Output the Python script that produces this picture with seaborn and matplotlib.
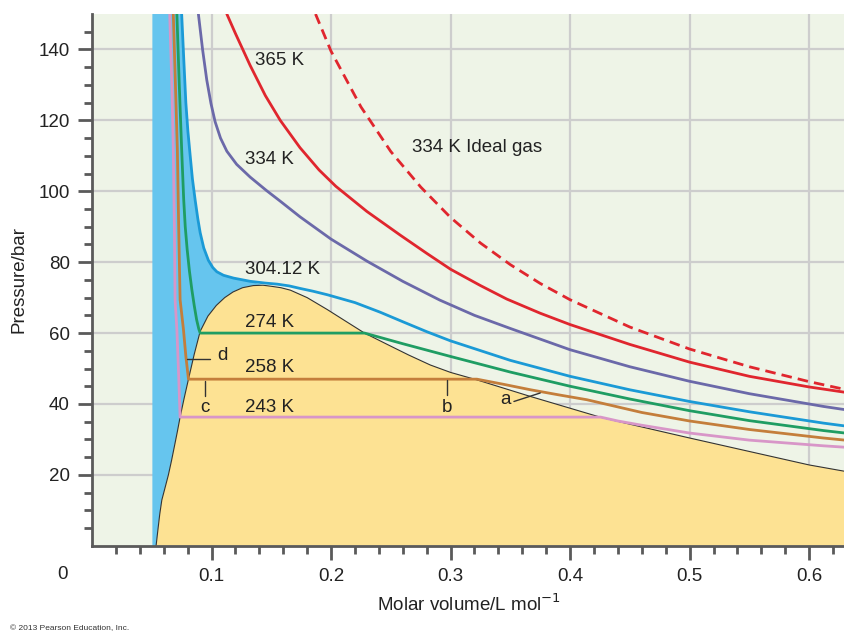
import numpy as np
import pandas as pd
import matplotlib
matplotlib.use("Agg")
from matplotlib import pyplot as plt
import seaborn as sns

# isotherms: molar volume (L/mol) / pressure (bar)
v_365 = [0.1128, 0.12, 0.1323, 0.145, 0.1575, 0.174, 0.19, 0.204, 0.23, 0.258, 0.28, 0.3, 0.325, 0.347, 0.375,
         0.4, 0.45, 0.5, 0.55, 0.6, 0.63]
p_365 = [150, 144.5, 135.5, 127, 120, 112.3, 106, 101.4, 94.3, 87.6, 82.5, 78, 73.4, 69.6, 65.6,
         62.4, 56.8, 51.8, 47.8, 44.8, 43.3]

v_ideal = [0.187, 0.2, 0.225, 0.25, 0.275, 0.3, 0.325, 0.35, 0.375, 0.4, 0.45, 0.5, 0.55, 0.6, 0.63]
p_ideal = [150, 139.5, 123.8, 111.2, 101.2, 92.6, 85.4, 79.3, 74.0, 69.4, 61.7, 55.5, 50.5, 46.3, 44.1]

v_334 = [0.089, 0.0925, 0.096, 0.0995, 0.103, 0.1075, 0.1128, 0.121, 0.1323, 0.146, 0.1575, 0.174, 0.2, 0.23,
         0.26, 0.291, 0.32, 0.35, 0.4, 0.45, 0.5, 0.55, 0.612, 0.63]
p_334 = [150, 140, 131.4, 124.8, 119.6, 115, 111.3, 107.6, 104, 100.2, 97.2, 92.8, 86.5, 80.3,
         74.6, 69.3, 65, 61.3, 55.3, 50.5, 46.4, 42.9, 39.3, 38.4]

v_304 = [0.075, 0.0768, 0.0785, 0.0802, 0.082, 0.084, 0.0863, 0.0885, 0.0905, 0.0935, 0.0974, 0.101, 0.1044,
         0.11, 0.1185, 0.1323, 0.145, 0.155, 0.165, 0.174, 0.185, 0.197, 0.22, 0.241, 0.26, 0.28, 0.3, 0.35,
         0.4, 0.45, 0.5, 0.55, 0.612, 0.63]
p_304 = [150, 137, 125, 117, 110.5, 103.5, 97.5, 92.3, 88.3, 84, 80.5, 78.5, 77.3,
         76.3, 75.5, 74.6, 74.1, 73.8, 73.3, 72.6, 71.8, 70.8, 68.6, 65.9, 63.2, 60.4, 57.8, 52.3,
         47.8, 44, 40.7, 37.8, 34.6, 33.8]

v_274 = [0.071, 0.073, 0.075, 0.0767, 0.078, 0.0796, 0.0815, 0.0835, 0.0855, 0.0875, 0.0893, 0.0905,
         0.228, 0.26, 0.3, 0.35, 0.4, 0.45, 0.5, 0.55, 0.612, 0.63]
p_274 = [150, 130, 111.8, 97.7, 90, 83.6, 77.5, 72.3, 67.8, 63.8, 61.2, 60,
         60, 57, 53.4, 49, 45, 41.4, 38.1, 35.3, 32.5, 31.8]

v_258 = [0.068, 0.0698, 0.0714, 0.0725, 0.0737, 0.0765, 0.0785, 0.0807, 0.322, 0.345, 0.367, 0.39, 0.414,
         0.46, 0.5, 0.55, 0.612, 0.63]
p_258 = [150, 130, 111.8, 90, 69.4, 61, 53.5, 47, 47, 45.5, 44.0, 42.6, 41.2,
         37.6, 35.2, 32.8, 30.4, 29.8]

v_243 = [0.065, 0.0668, 0.068, 0.0689, 0.0695, 0.071, 0.0725, 0.0737, 0.4255, 0.44, 0.46, 0.5, 0.55, 0.612, 0.63]
p_243 = [150, 130, 111.8, 90, 69.4, 61, 48, 36.3, 36.3, 35.2, 34.0, 31.8, 29.8, 28.2, 27.8]

# coexistence dome
v_dome = [0.0536, 0.0553, 0.0567, 0.0584, 0.0612, 0.0639, 0.0665, 0.0689, 0.0714, 0.0737, 0.077, 0.0807,
          0.0855, 0.0905, 0.097, 0.104, 0.111, 0.118, 0.126, 0.135, 0.143, 0.15, 0.158, 0.166, 0.18, 0.197,
          0.212, 0.228, 0.25, 0.265, 0.283, 0.3, 0.322, 0.345, 0.367, 0.39, 0.425, 0.45, 0.5, 0.55, 0.6, 0.63]
p_dome = [0, 5, 9, 12.9, 16.5, 20, 24, 28, 32.2, 36.3, 41.5, 47,
          54, 60.5, 64.8, 67.8, 70, 71.6, 72.8, 73.4, 73.5, 73.2, 72.8, 72.1, 70, 66.6,
          63.4, 60, 56.3, 53.8, 51, 48.9, 46.8, 44.4, 42.1, 39.8, 36.3, 34.3, 30.4, 26.6, 22.8, 21.0]

# liquid region left edge
v_liq = 0.0505

iso_labels = ["365 K", "334 K", "334 K Ideal gas", "304.12 K", "274 K", "258 K", "243 K"]
label_v = [0.1365, 0.128, 0.268, 0.128, 0.128, 0.128, 0.128]
label_p = [136.8, 109, 112.4, 77.9, 62.9, 50.2, 38.9]

c_red = "#e0262e"
c_purple = "#6b69a9"
c_cyan = "#1b9ad6"
c_green = "#1f9d63"
c_brown = "#c47e3b"
c_pink = "#d896c8"

sns.set_style("ticks")
plt.rcParams['font.family'] = ['Liberation Sans', 'DejaVu Sans']

fig = plt.figure(figsize=(8.45, 6.37), dpi=100)
ax = fig.add_axes([0.1089, 0.1432, 0.8911, 0.8348])
ax.set_facecolor("#eef4e7")

# blue liquid region, then yellow dome over it
n_top = sum(1 for v in v_304 if v <= 0.14)
peak = int(np.argmax(p_dome))
liq_v = [v_liq, v_liq] + v_304[:n_top] + v_dome[:peak + 1][::-1]
liq_p = [0, 150] + p_304[:n_top] + p_dome[:peak + 1][::-1]
ax.fill(liq_v, liq_p, color="#66c5ee", lw=0, zorder=1)
ax.fill(v_dome + [v_dome[-1]], p_dome + [0], color="#fde293", lw=0, zorder=1.2)
sns.lineplot(x=v_dome, y=p_dome, sort=False, estimator=None, color="#333333", lw=0.8, ax=ax, zorder=1.5)

curves = [(v_243, p_243, c_pink), (v_258, p_258, c_brown), (v_274, p_274, c_green),
          (v_304, p_304, c_cyan), (v_334, p_334, c_purple), (v_365, p_365, c_red)]
for vv, pp, cc in curves:
    sns.lineplot(x=vv, y=pp, sort=False, estimator=None, color=cc, lw=2, ax=ax, zorder=3)
ideal = pd.DataFrame({"V": v_ideal, "P": p_ideal})
sns.lineplot(data=ideal, x="V", y="P", sort=False, estimator=None, color=c_red, lw=2,
             ax=ax, zorder=3, dashes=False, linestyle=(0, (3.8, 2.2)))

for t, v, p in zip(iso_labels, label_v, label_p):
    ax.text(v, p, t, fontsize=13.5, color="#222222", ha="left", va="center", zorder=4)

# point markers a-d
ax.plot([0.0793, 0.0988], [52.7, 52.7], color="#333333", lw=1, zorder=4)
ax.text(0.109, 53.6, "d", fontsize=13.5, color="#222222", ha="center", va="center", zorder=4)
ax.plot([0.0946, 0.0946], [46.6, 42.3], color="#333333", lw=1, zorder=4)
ax.text(0.0946, 38.9, "c", fontsize=13.5, color="#222222", ha="center", va="center", zorder=4)
ax.plot([0.297, 0.297], [46.8, 42.6], color="#333333", lw=1, zorder=4)
ax.text(0.297, 38.9, "b", fontsize=13.5, color="#222222", ha="center", va="center", zorder=4)
ax.plot([0.353, 0.375], [40.7, 43.1], color="#333333", lw=1, zorder=4)
ax.text(0.346, 41.2, "a", fontsize=13.5, color="#222222", ha="center", va="center", zorder=4)

ax.set_xlim(0, 0.63)
ax.set_ylim(0, 150)
ax.set_xticks([0.1, 0.2, 0.3, 0.4, 0.5, 0.6])
ax.set_xticklabels(["0.1", "0.2", "0.3", "0.4", "0.5", "0.6"])
ax.set_xticks(np.arange(0.02, 0.63, 0.02), minor=True)
ax.set_yticks([20, 40, 60, 80, 100, 120, 140])
ax.set_yticks(np.arange(5, 150, 5), minor=True)
ax.text(-0.0243, -8.2, "0", fontsize=13.5, color="#222222", ha="center", va="center", clip_on=False)

ax.grid(which="major", color="#cdcdcd", lw=1.6)
ax.set_axisbelow(True)
for s in ["top", "right"]:
    ax.spines[s].set_visible(False)
for s in ["left", "bottom"]:
    ax.spines[s].set_linewidth(2)
    ax.spines[s].set_color("#5a5a5a")
    ax.spines[s].set_zorder(5)
ax.tick_params(which="major", length=10, width=2, color="#5a5a5a", pad=6, labelsize=13.5, labelcolor="#222222")
ax.tick_params(which="minor", length=6, width=2, color="#5a5a5a")

ax.set_xlabel("Molar volume/L mol$^{-1}$", fontsize=13.5, color="#222222", labelpad=6)
ax.set_ylabel("Pressure/bar", fontsize=13.5, color="#222222", labelpad=8)

fig.text(0.012, 0.008, "\u00a9 2013 Pearson Education, Inc.", fontsize=6, color="#333333", ha="left", va="bottom")

fig.savefig("out.png", dpi=100)
